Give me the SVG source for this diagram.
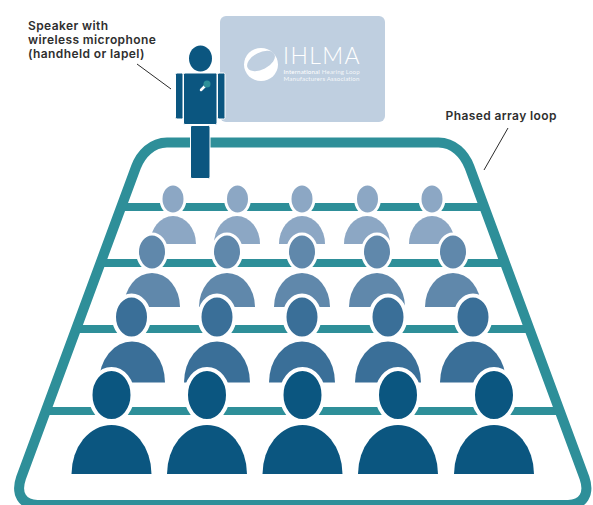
<svg xmlns="http://www.w3.org/2000/svg" width="593" height="505" viewBox="0 0 593 505">
<style>
.rail{fill:none;stroke:#2e8f99;stroke-width:8}
.loop{fill:none;stroke:#2e8f99;stroke-width:10}
.lead{fill:none;stroke:#2b2b2b;stroke-width:1}
.h{stroke:#fff}
.r1{fill:#8ca7c4}.r2{fill:#6088ab}.r3{fill:#3a6f98}.r4{fill:#0b5680}
.lbl{font-family:"Inter","Liberation Sans",sans-serif;font-weight:600;font-size:12px;letter-spacing:.4px;fill:#2f2f2f}
.logo{font-family:"Lato","Liberation Sans",sans-serif;fill:#fff}
.sp{fill:#0b5680;stroke:#fff;stroke-width:1}
</style>
<rect width="593" height="505" fill="#fff"/>
<g id="board">
<rect x="220" y="16" width="165" height="106" rx="6" fill="#bfcfe0"/>
<ellipse cx="261" cy="64.500" rx="17" ry="16.500" fill="#fff"/>
<ellipse cx="261" cy="61" rx="15" ry="8.500" transform="rotate(-27 261 61)" fill="#bfcfe0"/>
<text class="logo" x="283" y="64" font-size="23" font-weight="300" letter-spacing="1.4">IHLMA</text>
<text class="logo" x="283.500" y="74" font-size="6.2" letter-spacing=".15">International <tspan fill-opacity=".8">Hearing Loop</tspan></text>
<text class="logo" x="283.500" y="81" font-size="6.2" letter-spacing=".15" fill-opacity=".85">Manufacturers Association</text>
</g>
<g id="connectors">
<path class="rail" d="M121 207H484.500"/>
<path class="rail" d="M100.500 263H505"/>
<path class="rail" d="M76 329H529.500"/>
<path class="rail" d="M46 411H559.500"/>
<path class="loop" d="M167 142.500H438.500C453.500 142.500 464.500 154 469.500 167L584.500 478C590 494 583 505 568 505H37.500C22.500 505 15.500 494 21 478L136 167C141 154 152 142.500 167 142.500Z"/>
<path class="lead" d="M137 64L171 89"/>
<path class="lead" d="M484 170L508 128"/>
</g>
<g id="row-1" class="r1">
<g id="p1-1"><path d="M150 244A23 28 0 0 1 196 244Z"/><ellipse class="h" cx="173" cy="199" rx="12" ry="15" stroke-width="3"/></g>
<g id="p1-2"><path d="M214 244A23 28 0 0 1 260 244Z"/><ellipse class="h" cx="237.500" cy="199" rx="12" ry="15" stroke-width="3"/></g>
<g id="p1-3"><path d="M279 244A23 28 0 0 1 325 244Z"/><ellipse class="h" cx="302" cy="199" rx="12" ry="15" stroke-width="3"/></g>
<g id="p1-4"><path d="M344 244A23 28 0 0 1 390 244Z"/><ellipse class="h" cx="367.500" cy="199" rx="12" ry="15" stroke-width="3"/></g>
<g id="p1-5"><path d="M409 244A23 28 0 0 1 455 244Z"/><ellipse class="h" cx="432" cy="199" rx="12" ry="15" stroke-width="3"/></g>
</g>
<g id="row-2" class="r2">
<g id="p2-1"><path d="M124 307A28 34 0 0 1 180 307Z"/><ellipse class="h" cx="152" cy="252" rx="14.500" ry="18" stroke-width="3"/></g>
<g id="p2-2"><path d="M199 307A28 34 0 0 1 255 307Z"/><ellipse class="h" cx="227" cy="252" rx="14.500" ry="18" stroke-width="3"/></g>
<g id="p2-3"><path d="M274 307A28 34 0 0 1 330 307Z"/><ellipse class="h" cx="302" cy="252" rx="14.500" ry="18" stroke-width="3"/></g>
<g id="p2-4"><path d="M349 307A28 34 0 0 1 405 307Z"/><ellipse class="h" cx="377" cy="252" rx="14.500" ry="18" stroke-width="3"/></g>
<g id="p2-5"><path d="M425 307A28 34 0 0 1 481 307Z"/><ellipse class="h" cx="453" cy="252" rx="14.500" ry="18" stroke-width="3"/></g>
</g>
<g id="row-3" class="r3">
<g id="p3-1"><path d="M99 382.500A33 41 0 0 1 165 382.500Z"/><ellipse class="h" cx="131.500" cy="317" rx="17.500" ry="21.500" stroke-width="4"/></g>
<g id="p3-2"><path d="M184 382.500A33 41 0 0 1 250 382.500Z"/><ellipse class="h" cx="217" cy="317" rx="17.500" ry="21.500" stroke-width="4"/></g>
<g id="p3-3"><path d="M269 382.500A33 41 0 0 1 335 382.500Z"/><ellipse class="h" cx="302" cy="317" rx="17.500" ry="21.500" stroke-width="4"/></g>
<g id="p3-4"><path d="M355 382.500A33 41 0 0 1 421 382.500Z"/><ellipse class="h" cx="388" cy="317" rx="17.500" ry="21.500" stroke-width="4"/></g>
<g id="p3-5"><path d="M440 382.500A33 41 0 0 1 506 382.500Z"/><ellipse class="h" cx="473" cy="317" rx="17.500" ry="21.500" stroke-width="4"/></g>
</g>
<g id="row-4" class="r4">
<g id="p4-1"><path d="M71.500 474A40 49 0 0 1 151.500 474Z"/><ellipse class="h" cx="111.500" cy="395" rx="21" ry="26" stroke-width="4"/></g>
<g id="p4-2"><path d="M167 474A40 49 0 0 1 247 474Z"/><ellipse class="h" cx="207" cy="395" rx="21" ry="26" stroke-width="4"/></g>
<g id="p4-3"><path d="M262.500 474A40 49 0 0 1 342.500 474Z"/><ellipse class="h" cx="302.500" cy="395" rx="21" ry="26" stroke-width="4"/></g>
<g id="p4-4"><path d="M358 474A40 49 0 0 1 438 474Z"/><ellipse class="h" cx="398" cy="395" rx="21" ry="26" stroke-width="4"/></g>
<g id="p4-5"><path d="M454 474A40 49 0 0 1 534 474Z"/><ellipse class="h" cx="494" cy="395" rx="21" ry="26" stroke-width="4"/></g>
</g>
<g id="speaker">
<ellipse cx="200.500" cy="58.500" rx="11.500" ry="13" fill="#0b5680"/>
<rect class="sp" x="175.500" y="73" width="7.500" height="46" rx="1.500"/>
<rect class="sp" x="217.500" y="73" width="7.500" height="46" rx="1.500"/>
<rect class="sp" x="183.500" y="73" width="33.500" height="51.500" rx="1.500"/>
<rect class="sp" x="190.500" y="125.500" width="19.500" height="53" rx="1.500"/>
<path d="M201 90L205 86" stroke="#fff" stroke-width="2.500" stroke-linecap="round" fill="none"/>
<circle cx="207" cy="84" r="3.500" fill="#2e8f99"/>
</g>
<g id="labels">
<text class="lbl" x="28" y="30">Speaker with</text>
<text class="lbl" x="28" y="44">wireless microphone</text>
<text class="lbl" x="28" y="58">(handheld or lapel)</text>
<text class="lbl" x="445.500" y="120">Phased array loop</text>
</g>
</svg>
